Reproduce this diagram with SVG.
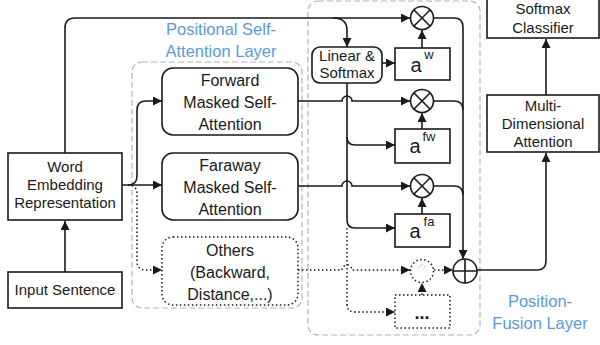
<svg xmlns="http://www.w3.org/2000/svg" width="600" height="345" viewBox="0 0 600 345">
<style>
text{font-family:"Liberation Sans",Arial,sans-serif;fill:#1a1a1a;text-anchor:middle}
.box{fill:#fff;stroke:#1a1a1a;stroke-width:1.6}
.dotbox{fill:#fff;stroke:#1a1a1a;stroke-width:1.5;stroke-dasharray:1.5 2.5}
.group{fill:none;stroke:#b4b4b4;stroke-width:1.2;stroke-dasharray:6 3}
.line{fill:none;stroke:#1a1a1a;stroke-width:1.6}
.dot{fill:none;stroke:#1a1a1a;stroke-width:1.5;stroke-dasharray:1.5 2.5}
.lbl{fill:#5b9bd5;font-size:16.5px}
.n{font-size:15px}
.big{font-size:16px}
</style>
<defs>
<marker id="arr" markerUnits="userSpaceOnUse" markerWidth="10" markerHeight="9" refX="9" refY="4.5" orient="auto">
<path d="M0,0 L9,4.5 L0,9 z" fill="#1a1a1a"/>
</marker>
</defs>

<rect class="group" x="132" y="62" width="170" height="246" rx="10"/>
<rect class="group" x="308" y="1" width="172" height="334" rx="10"/>
<text class="lbl" x="221" y="35">Positional Self-</text>
<text class="lbl" x="221" y="57">Attention Layer</text>
<text class="lbl" x="540" y="307">Position-</text>
<text class="lbl" x="540" y="329">Fusion Layer</text>

<g id="connectors">
<path class="line" d="M65,272 V221" marker-end="url(#arr)"/>
<path class="line" d="M65,153 V28 Q65,18 75,18 H410" marker-end="url(#arr)"/>
<path class="line" d="M333,18 Q347,18 347,30 V47" marker-end="url(#arr)"/>
<path class="line" d="M382,63 H395" marker-end="url(#arr)"/>
<path class="line" d="M422,48 V30" marker-end="url(#arr)"/>
<path class="line" d="M434,18 H454 Q463,18 463,27 V259" marker-end="url(#arr)"/>
<path class="line" d="M122,185 H162" marker-end="url(#arr)"/>
<path class="line" d="M128,185 Q137,185 137,176 V110 Q137,101 146,101 H162" marker-end="url(#arr)"/>
<path class="dot" d="M128,185 Q137,185 137,194 V261 Q137,270 146,270 H162" marker-end="url(#arr)"/>
<path class="line" d="M298,101 H342 A5,5 0 0 1 352,101 H410" marker-end="url(#arr)"/>
<path class="line" d="M298,186 H342 A5,5 0 0 1 352,186 H410" marker-end="url(#arr)"/>
<path class="line" d="M347,83 V137 Q347,145 355,145 H395" marker-end="url(#arr)"/>
<path class="line" d="M347,137 V220 Q347,228 355,228 H395" marker-end="url(#arr)"/>
<path class="dot" d="M347,228 V304 Q347,312 355,312 H395" marker-end="url(#arr)"/>
<path class="line" d="M422,129 V113" marker-end="url(#arr)"/>
<path class="line" d="M422,214 V198" marker-end="url(#arr)"/>
<path class="line" d="M434,101 H454 Q463,101 463,110"/>
<path class="line" d="M434,186 H454 Q463,186 463,195"/>
<path class="dot" d="M298,270 H342 A5,5 0 0 1 352,270 H410" marker-end="url(#arr)"/>
<path class="dot" d="M434,270 H453" marker-end="url(#arr)"/>
<path class="dot" d="M422,295 V283" marker-end="url(#arr)"/>
<path class="line" d="M477,270 H537 Q546,270 546,261 V153" marker-end="url(#arr)"/>
<path class="line" d="M546,95 V39" marker-end="url(#arr)"/>
</g>

<g id="input">
<rect class="box" x="8" y="272" width="114" height="36"/>
<text class="n" x="65" y="295">Input Sentence</text>
</g>
<g id="word">
<rect class="box" x="8" y="153" width="114" height="67"/>
<text class="n" x="65" y="172">Word</text>
<text class="n" x="65" y="190">Embedding</text>
<text class="n" x="65" y="208">Representation</text>
</g>
<g id="forward">
<rect class="box" x="162" y="68" width="136" height="67" rx="11"/>
<text class="big" x="230" y="86">Forward</text>
<text class="big" x="230" y="108">Masked Self-</text>
<text class="big" x="230" y="130">Attention</text>
</g>
<g id="faraway">
<rect class="box" x="162" y="153" width="136" height="67" rx="11"/>
<text class="big" x="230" y="171">Faraway</text>
<text class="big" x="230" y="193">Masked Self-</text>
<text class="big" x="230" y="215">Attention</text>
</g>
<g id="others">
<rect class="dotbox" x="162" y="237" width="136" height="68" rx="11"/>
<text class="big" x="230" y="256">Others</text>
<text class="big" x="230" y="278">(Backward,</text>
<text class="big" x="230" y="300">Distance,...)</text>
</g>
<g id="linear">
<rect class="box" x="312" y="47" width="70" height="36" rx="8"/>
<text class="n" x="347" y="61">Linear &amp;</text>
<text class="n" x="347" y="78">Softmax</text>
</g>
<g id="aw">
<rect class="box" x="395" y="48" width="55" height="32"/>
<text x="416" y="72" style="font-size:20px">a</text>
<text x="429" y="59" style="font-size:13px">w</text>
</g>
<g id="afw">
<rect class="box" x="395" y="129" width="55" height="34"/>
<text x="415" y="153" style="font-size:20px">a</text>
<text x="429" y="141" style="font-size:13px">fw</text>
</g>
<g id="afa">
<rect class="box" x="395" y="214" width="55" height="33"/>
<text x="415" y="238" style="font-size:20px">a</text>
<text x="429" y="226" style="font-size:13px">fa</text>
</g>
<g id="dots">
<rect class="dotbox" x="395" y="295" width="55" height="33"/>
<text x="422" y="319" style="font-size:18px;font-weight:bold">...</text>
</g>
<g id="mul1">
<circle class="box" cx="422" cy="18" r="11.5"/>
<path class="line" d="M414,10 L430,26 M430,10 L414,26"/>
</g>
<g id="mul2">
<circle class="box" cx="422" cy="101" r="11.5"/>
<path class="line" d="M414,93 L430,109 M430,93 L414,109"/>
</g>
<g id="mul3">
<circle class="box" cx="422" cy="186" r="11.5"/>
<path class="line" d="M414,178 L430,194 M430,178 L414,194"/>
</g>
<g id="mul4">
<circle class="dotbox" cx="422" cy="271" r="11.5"/>
<path d="M418,268 L422,264 L426,268" fill="none" stroke="#999" stroke-width="1" stroke-dasharray="1 2"/>
</g>
<g id="sum">
<circle class="box" cx="465" cy="271" r="12"/>
<path class="line" d="M453,271 H477 M465,259 V283"/>
</g>
<g id="mda">
<rect class="box" x="487" y="95" width="112" height="57"/>
<text class="n" x="543" y="111">Multi-</text>
<text class="n" x="543" y="129">Dimensional</text>
<text class="n" x="543" y="147">Attention</text>
</g>
<g id="softmax">
<rect class="box" x="487" y="-5" width="112" height="43"/>
<text class="n" x="543" y="14">Softmax</text>
<text class="n" x="543" y="33">Classifier</text>
</g>
</svg>
